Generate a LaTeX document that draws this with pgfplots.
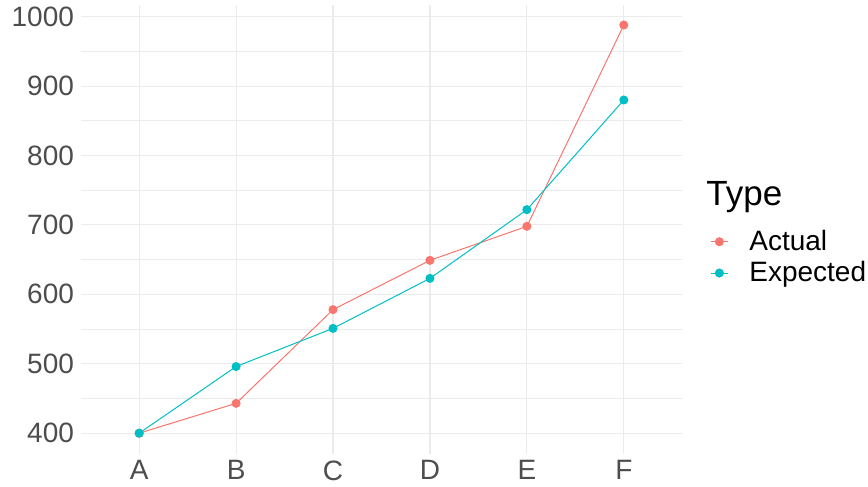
\documentclass[border=0pt]{standalone}
\usepackage{fontspec}
\setmainfont{Liberation Sans}
\usepackage{pgfplots}
\pgfplotsset{compat=1.18}
\definecolor{actual}{HTML}{F8766D}
\definecolor{expected}{HTML}{00BFC4}
\definecolor{gridc}{HTML}{EBEBEB}
\definecolor{ticklab}{HTML}{4D4D4D}
\begin{document}
\begin{tikzpicture}
% picture frame: panel is 300.5pt x 224.5pt at the origin
\path[use as bounding box] (-40.5pt,-16.65pt) rectangle (393.5pt,226.8pt);
\begin{axis}[
    at={(0,0)}, anchor=south west,
    scale only axis,
    width=300.5pt, height=224.5pt,
    xmin=-0.6, xmax=5.6,
    ymin=370.6, ymax=1017.4,
    xtick={0,1,2,3,4,5},
    xticklabels={A,B,C,D,E,F},
    ytick={400,500,...,1000},
    minor ytick={450,550,...,950},
    grid=both,
    major grid style={gridc, line width=0.55pt},
    minor grid style={gridc, line width=0.4pt},
    axis line style={draw=none},
    major tick length=0pt, minor tick length=0pt,
    tick label style={font=\fontsize{14}{16}\selectfont, text=ticklab},
    /pgf/number format/assume math mode=true,
    /pgf/number format/1000 sep={},
    clip=false,
    legend cell align=left,
    legend style={at={(rel axis cs:1,0.437)}, anchor=west, xshift=14pt,
        draw=none, fill=none, font=\fontsize{14}{16}\selectfont,
        row sep=0pt, inner sep=0pt,
        /tikz/every odd column/.style={column sep=8.5pt}},
    legend image code/.code={
        \draw[mark repeat=2, mark phase=2]
            plot coordinates {(0pt,0pt) (4.25pt,0pt) (8.5pt,0pt)};
    },
]
\addplot[actual, line width=0.5pt, mark=*, mark size=2pt] coordinates {
    (0,400) (1,443) (2,578) (3,649) (4,698) (5,988)
};
\addlegendentry{Actual}
\addplot[expected, line width=0.5pt, mark=*, mark size=2pt] coordinates {
    (0,400) (1,496) (2,551) (3,623) (4,722) (5,880)
};
\addlegendentry{Expected}
\node[anchor=west, font=\fontsize{17.5}{20}\selectfont, inner sep=0pt]
    at (rel axis cs:1,0.571) [xshift=12pt] {Type};
\end{axis}
\end{tikzpicture}
\end{document}
